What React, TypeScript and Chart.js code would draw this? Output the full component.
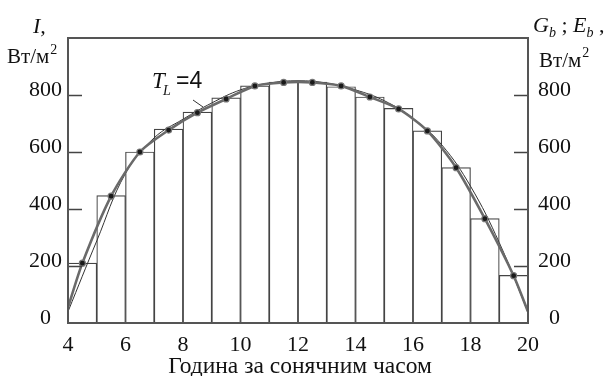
import React, { useEffect, useRef } from "react";
import { Chart, registerables } from "chart.js";

Chart.register(...registerables);

// ---- data ----
const barCenters = [4.5, 5.5, 6.5, 7.5, 8.5, 9.5, 10.5, 11.5, 12.5, 13.5, 14.5, 15.5, 16.5, 17.5, 18.5, 19.5];
const barValues = [210, 447, 600, 680, 740, 790, 832, 845, 845, 829, 793, 753, 674, 545, 366, 167];

const grayHours = [4, 4.5, 5.5, 6.5, 7.5, 8.5, 9.5, 10.5, 11.5, 12.5, 13.5, 14.5, 15.5, 16.5, 17.5, 18.5, 19.5, 20];
const grayValues = [55, 210, 445, 600, 677, 738, 786, 832, 844, 844, 832, 793, 751, 674, 545, 366, 166, 40];

const curveHours = [4, 5, 6, 7, 8, 9, 10, 11, 12, 13, 14, 15, 16, 17, 18, 19, 20];
const curveValues = [40, 288, 525, 650, 715, 772, 818, 842, 850, 842, 818, 780, 718, 625, 480, 282, 38];

const yTicks = [0, 200, 400, 600, 800];
const xTicks = [4, 6, 8, 10, 12, 14, 16, 18, 20];

const SERIF = "'Liberation Serif', 'DejaVu Serif', serif";
const SANS = "'Liberation Sans', Arial, sans-serif";

const decorPlugin = {
  id: "decor",
  afterDatasetsDraw(chart: any) {
    const { ctx, chartArea, scales } = chart;
    const { left, right, top, bottom } = chartArea;
    ctx.save();
    // inward ticks
    ctx.strokeStyle = "#444";
    ctx.lineWidth = 1.5;
    for (const v of yTicks) {
      if (v === 0) continue;
      const y = Math.round(scales.y.getPixelForValue(v)) + 0.5;
      ctx.beginPath();
      ctx.moveTo(left, y);
      ctx.lineTo(left + 14, y);
      ctx.moveTo(right - 14, y);
      ctx.lineTo(right, y);
      ctx.stroke();
    }
    // frame
    ctx.strokeStyle = "#555";
    ctx.lineWidth = 2;
    ctx.strokeRect(left, top, right - left, bottom - top);

    // leader line for T_L
    ctx.strokeStyle = "#333";
    ctx.lineWidth = 1;
    ctx.beginPath();
    ctx.moveTo(193, 100);
    ctx.lineTo(203, 107);
    ctx.stroke();

    ctx.fillStyle = "#111";
    ctx.textBaseline = "alphabetic";
    ctx.textAlign = "left";
    // T_L =4
    ctx.font = `italic 23px ${SERIF}`;
    ctx.fillText("T", 152, 88);
    ctx.font = `italic 14px ${SERIF}`;
    ctx.fillText("L", 163, 95);
    ctx.font = `23px ${SANS}`;
    ctx.fillText("=4", 176, 88);

    // left title
    ctx.font = `italic 22px ${SERIF}`;
    ctx.fillText("I,", 33, 33);
    ctx.font = `21px ${SERIF}`;
    ctx.fillText("Вт/м", 7, 63);
    let w = ctx.measureText("Вт/м").width;
    ctx.font = `14px ${SERIF}`;
    ctx.fillText("2", 7 + w + 1, 54);

    // right title
    let x = 533;
    const part = (t: string, font: string, dy: number) => {
      ctx.font = font;
      ctx.fillText(t, x, 32 + dy);
      x += ctx.measureText(t).width;
    };
    part("G", `italic 22px ${SERIF}`, 0);
    part("b", `italic 14px ${SERIF}`, 5);
    part(" ; ", `22px ${SERIF}`, 0);
    part("E", `italic 22px ${SERIF}`, 0);
    part("b", `italic 14px ${SERIF}`, 5);
    part(" ,", `22px ${SERIF}`, 0);

    ctx.font = `21px ${SERIF}`;
    ctx.fillText("Вт/м", 539, 67);
    w = ctx.measureText("Вт/м").width;
    ctx.font = `14px ${SERIF}`;
    ctx.fillText("2", 539 + w + 1, 57);

    // x title
    ctx.font = `23.5px ${SERIF}`;
    ctx.textAlign = "center";
    ctx.fillText("Година за сонячним часом", 300, 373);
    ctx.restore();
  },
};

export default function App() {
  const ref = useRef<HTMLCanvasElement | null>(null);
  useEffect(() => {
    document.body.style.margin = "0";
    const canvas = ref.current!;
    const chart = new Chart(canvas, {
      type: "bar",
      data: {
        datasets: [
          {
            type: "line",
            data: grayHours.map((h, i) => ({ x: h, y: grayValues[i] })),
            borderColor: "#6a6a6a",
            borderWidth: 2.6,
            tension: 0.25,
            pointRadius: grayHours.map((h) => (h === 4 || h === 20 ? 0 : 3)),
            pointBackgroundColor: "#1a1a1a",
            pointBorderColor: "#777",
            pointBorderWidth: 1.2,
            order: 1,
          } as any,
          {
            type: "line",
            data: curveHours.map((h, i) => ({ x: h, y: curveValues[i] })),
            borderColor: "#333",
            borderWidth: 1,
            tension: 0.4,
            pointRadius: 0,
            order: 2,
          } as any,
          {
            type: "bar",
            data: barCenters.map((h, i) => ({ x: h, y: barValues[i] })),
            backgroundColor: "#ffffff",
            borderColor: "#444",
            borderWidth: 1.2,
            borderSkipped: false,
            barPercentage: 1,
            categoryPercentage: 1,
            order: 3,
          } as any,
        ],
      },
      options: {
        responsive: false,
        animation: false,
        events: [],
        layout: { padding: { top: 38, left: 0, right: 0, bottom: 0 } },
        plugins: { legend: { display: false }, tooltip: { enabled: false } },
        scales: {
          x: {
            type: "linear",
            min: 4,
            max: 20,
            offset: false,
            grid: { display: false, offset: false, drawTicks: false },
            border: { display: false },
            afterBuildTicks: (s: any) => {
              s.ticks = xTicks.map((v) => ({ value: v }));
            },
            afterFit: (s: any) => {
              s.height = 53;
            },
            ticks: {
              color: "#111",
              font: { family: SERIF, size: 22 },
              padding: 9,
              maxRotation: 0,
              autoSkip: false,
            },
          },
          y: {
            position: "left",
            min: 0,
            max: 1000,
            grid: { display: false, drawTicks: false },
            border: { display: false },
            afterBuildTicks: (s: any) => {
              s.ticks = yTicks.map((v) => ({ value: v }));
            },
            afterFit: (s: any) => {
              s.width = 68;
            },
            ticks: {
              color: "#111",
              font: { family: SERIF, size: 22 },
              padding: 6,
              crossAlign: "center",
              labelOffset: -5,
            },
          },
          y2: {
            position: "right",
            min: 0,
            max: 1000,
            grid: { display: false, drawTicks: false },
            border: { display: false },
            afterBuildTicks: (s: any) => {
              s.ticks = yTicks.map((v) => ({ value: v }));
            },
            afterFit: (s: any) => {
              s.width = 82;
            },
            ticks: {
              color: "#111",
              font: { family: SERIF, size: 22 },
              padding: 10,
              crossAlign: "center",
              labelOffset: -5,
            },
          },
        },
      } as any,
      plugins: [decorPlugin],
    });
    return () => chart.destroy();
  }, []);
  return (
    <div style={{ width: 610, height: 376 }}>
      <canvas ref={ref} width={610} height={376} style={{ display: "block" }} />
    </div>
  );
}
